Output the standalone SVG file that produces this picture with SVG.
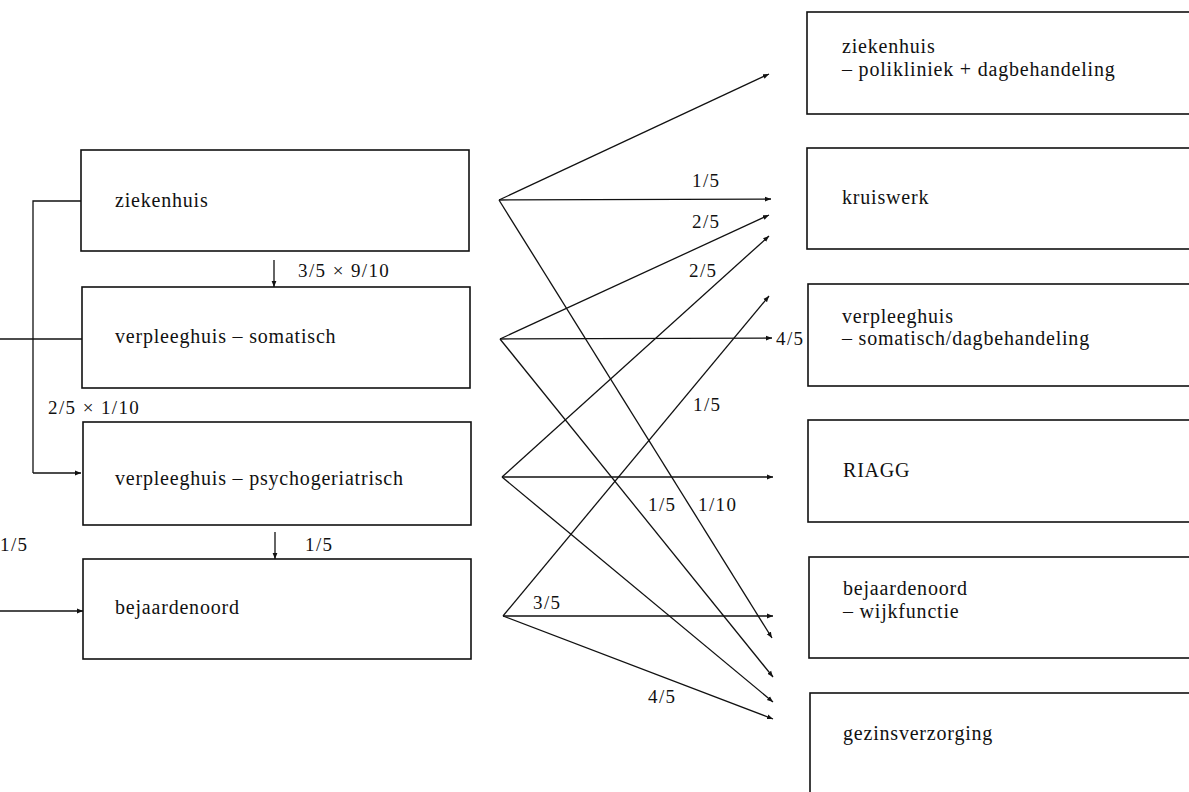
<svg xmlns="http://www.w3.org/2000/svg" width="1189" height="792" viewBox="0 0 1189 792">
<style>
.box{fill:#fff;stroke:#111;stroke-width:1.6}
.t{font-family:"Liberation Serif","Times New Roman",serif;font-size:20px;letter-spacing:0.8px;fill:#111}
.l{font-family:"Liberation Serif","Times New Roman",serif;font-size:19px;letter-spacing:1.4px;fill:#111}
.c{fill:none;stroke:#111;stroke-width:1.3}
</style>
<defs>
<marker id="ah" markerUnits="userSpaceOnUse" markerWidth="7" markerHeight="6" refX="6" refY="3" orient="auto">
<path d="M0,0.6 L6,3 L0,5.4 z" fill="#111"/>
</marker>
</defs>
<rect width="1189" height="792" fill="#fff"/>

<g id="n-ziekenhuis"><rect class="box" x="81" y="150" width="388" height="101"/><text class="t" x="115" y="207">ziekenhuis</text></g>
<g id="n-somatisch"><rect class="box" x="82" y="287" width="388" height="101"/><text class="t" x="115" y="343">verpleeghuis – somatisch</text></g>
<g id="n-psycho"><rect class="box" x="83" y="422" width="388" height="103"/><text class="t" x="115" y="485">verpleeghuis – psychogeriatrisch</text></g>
<g id="n-bejaardenoord"><rect class="box" x="83" y="559" width="388" height="100"/><text class="t" x="115" y="614">bejaardenoord</text></g>

<g id="r-poli"><rect class="box" x="807" y="12" width="400" height="102"/><text class="t" x="842" y="53">ziekenhuis</text><text class="t" x="842" y="76">– polikliniek + dagbehandeling</text></g>
<g id="r-kruiswerk"><rect class="box" x="807" y="148" width="400" height="101"/><text class="t" x="842" y="204">kruiswerk</text></g>
<g id="r-verpleeghuis"><rect class="box" x="808" y="284" width="400" height="102"/><text class="t" x="842" y="323">verpleeghuis</text><text class="t" x="842" y="345">– somatisch/dagbehandeling</text></g>
<g id="r-riagg"><rect class="box" x="808" y="420" width="400" height="102"/><text class="t" x="843" y="477">RIAGG</text></g>
<g id="r-wijk"><rect class="box" x="809" y="557" width="400" height="101"/><text class="t" x="843" y="595">bejaardenoord</text><text class="t" x="843" y="618">– wijkfunctie</text></g>
<g id="r-gezins"><rect class="box" x="810" y="693" width="400" height="130"/><text class="t" x="843" y="740">gezinsverzorging</text></g>

<g id="connectors">
<path class="c" d="M81,201 H33 V473"/>
<path class="c" d="M33,473 H81" marker-end="url(#ah)"/>
<path class="c" d="M0,339 H82"/>
<path class="c" d="M0,611 H83" marker-end="url(#ah)"/>
<path class="c" d="M274,260 V287" marker-end="url(#ah)"/>
<path class="c" d="M275,532 V559" marker-end="url(#ah)"/>

<path class="c" d="M499,200 L769,74" marker-end="url(#ah)"/>
<path class="c" d="M499,200 L771,199" marker-end="url(#ah)"/>
<path class="c" d="M499,200 L772,638" marker-end="url(#ah)"/>

<path class="c" d="M500,339 L769,215" marker-end="url(#ah)"/>
<path class="c" d="M500,339 L772,338" marker-end="url(#ah)"/>
<path class="c" d="M500,339 L773,677" marker-end="url(#ah)"/>

<path class="c" d="M502,477 L769,236" marker-end="url(#ah)"/>
<path class="c" d="M502,477 L773,477" marker-end="url(#ah)"/>
<path class="c" d="M502,477 L773,702" marker-end="url(#ah)"/>

<path class="c" d="M503,616 L769,296" marker-end="url(#ah)"/>
<path class="c" d="M503,616 L773,616" marker-end="url(#ah)"/>
<path class="c" d="M503,616 L773,719" marker-end="url(#ah)"/>
</g>

<g id="labels">
<text class="l" x="298" y="277">3/5 × 9/10</text>
<text class="l" x="48" y="414">2/5 × 1/10</text>
<text class="l" x="0" y="551">1/5</text>
<text class="l" x="305" y="551">1/5</text>
<text class="l" x="692" y="187">1/5</text>
<text class="l" x="692" y="228">2/5</text>
<text class="l" x="689" y="277">2/5</text>
<text class="l" x="776" y="345">4/5</text>
<text class="l" x="693" y="411">1/5</text>
<text class="l" x="648" y="511">1/5</text>
<text class="l" x="698" y="511">1/10</text>
<text class="l" x="533" y="609">3/5</text>
<text class="l" x="648" y="703">4/5</text>
</g>
</svg>
